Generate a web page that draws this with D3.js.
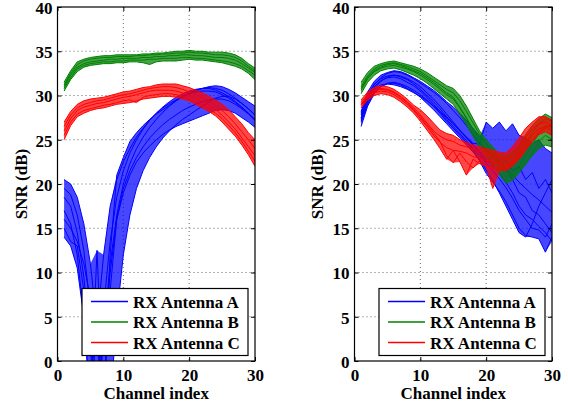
<!DOCTYPE html>
<html>
<head>
<meta charset="utf-8">
<script src="https://cdn.jsdelivr.net/npm/d3@7"></script>
<style>
body { margin: 0; background: #fff; }
text { font-family: "Liberation Serif", "Times New Roman", serif; font-weight: bold; }
</style>
</head>
<body>
<svg id="chart" width="568" height="408"></svg>
<script>
// channel index (x) for every trace
const channels = [1,2,3,4,5,6,7,8,9,10,11,12,13,14,15,16,17,18,19,20,21,22,23,24,25,26,27,28,29,30];
const xTicks = [0, 10, 20, 30];
const yTicks = [0, 5, 10, 15, 20, 25, 30, 35, 40];
const legendLabels = ['RX Antenna A', 'RX Antenna B', 'RX Antenna C'];

// left panel, antenna A (values below 0 drop off the axis)
const leftA = [
  [20.5,20.0,18.5,15.5,11.0,4.0,-5,12.0,21.0,23.0,24.8,25.8,26.6,27.3,27.9,28.4,28.9,29.4,29.8,30.2,30.5,30.8,31.0,31.1,31.0,30.7,30.3,29.8,29.3,28.8],
  [19.5,18.8,16.5,12.5,6.0,-5,3.0,11.0,16.5,20.0,22.3,24.0,25.3,26.4,27.3,28.1,28.8,29.4,29.9,30.3,30.6,30.8,30.9,30.8,30.6,30.2,29.7,29.1,28.5,27.8],
  [18.5,17.5,14.5,9.5,2.0,-5,6.0,13.5,18.5,21.5,23.5,25.0,26.2,27.2,28.0,28.7,29.3,29.8,30.2,30.5,30.7,30.8,30.8,30.6,30.3,29.9,29.3,28.7,28.0,27.3],
  [17.0,15.5,12.0,5.0,-5,4.0,12.0,17.5,20.5,22.5,24.0,25.3,26.3,27.2,28.0,28.6,29.1,29.5,29.9,30.2,30.4,30.5,30.5,30.4,30.1,29.7,29.2,28.6,28.0,27.2],
  [15.0,13.5,13.0,8.0,1.0,-5,2.0,10.0,16.0,19.5,21.5,23.0,24.2,25.2,26.0,26.7,27.3,27.8,28.3,28.7,29.0,29.3,29.5,29.6,29.6,29.4,29.0,28.5,27.9,27.2],
  [14.0,13.0,10.5,5.0,-5,12.5,-5,8.0,16.0,19.0,21.0,22.5,23.5,24.3,25.0,25.6,26.1,26.5,26.8,27.1,27.4,27.7,28.0,28.3,28.4,28.3,28.0,27.5,27.0,26.4],
  [16.0,15.0,13.5,11.0,7.0,2.0,-5,-5,5.0,12.0,16.5,19.5,21.5,23.0,24.2,25.2,26.0,26.7,27.3,27.8,28.3,28.8,29.3,29.7,29.9,29.9,29.6,29.1,28.5,27.8]
];
// left panel, antenna B
const leftB = [
  [31.5,32.8,33.8,34.1,34.3,34.4,34.5,34.5,34.6,34.6,34.6,34.6,34.7,34.7,34.8,34.8,34.9,35.0,35.0,35.1,35.0,35.0,34.9,34.9,34.9,34.8,34.6,34.2,33.6,33.1],
  [31.2,32.5,33.5,33.9,34.1,34.2,34.3,34.3,34.4,34.4,34.4,34.5,34.5,34.6,34.6,34.7,34.7,34.8,34.8,34.9,34.8,34.8,34.7,34.6,34.6,34.5,34.3,33.9,33.3,32.8],
  [31.0,32.3,33.2,33.6,33.8,33.9,34.0,34.1,34.1,34.2,34.2,34.2,34.3,34.3,34.4,34.4,34.5,34.5,34.6,34.6,34.5,34.5,34.4,34.3,34.3,34.2,34.0,33.6,33.1,32.6],
  [30.8,32.0,33.0,33.4,33.6,33.7,33.8,33.8,33.9,33.9,34.0,34.0,34.0,34.1,34.1,34.2,34.2,34.2,34.3,34.3,34.2,34.2,34.1,34.0,33.9,33.8,33.6,33.3,32.8,32.3],
  [30.5,31.8,32.7,33.2,33.4,33.5,33.6,33.6,33.7,33.7,33.8,33.8,33.7,33.5,33.8,33.9,33.9,33.9,34.0,34.1,34.0,34.0,33.9,33.8,33.7,33.5,33.3,33.0,32.5,31.8]
];
// left panel, antenna C
const leftC = [
  [27.0,28.2,29.0,29.4,29.6,29.7,29.8,30.0,30.2,30.4,30.5,30.7,30.9,31.0,31.2,31.3,31.3,31.3,31.1,30.9,30.6,30.3,29.9,29.5,29.0,28.4,27.6,26.8,25.8,25.0],
  [26.5,27.8,28.6,29.0,29.2,29.4,29.5,29.7,29.9,30.1,30.2,30.4,30.6,30.8,30.9,31.0,31.0,30.9,30.7,30.4,30.1,29.8,29.4,28.9,28.3,27.6,26.8,25.9,25.0,24.0],
  [26.0,27.4,28.3,28.7,28.9,29.1,29.2,29.4,29.6,29.8,29.9,30.1,30.3,30.5,30.6,30.6,30.6,30.5,30.3,30.0,29.7,29.3,28.9,28.4,27.8,27.0,26.2,25.2,24.2,23.2],
  [25.5,27.0,27.9,28.3,28.5,28.7,28.9,29.0,29.2,29.4,29.5,29.2,29.8,30.0,30.1,30.2,30.2,30.1,29.9,29.6,29.3,28.9,28.5,28.0,27.4,26.6,25.8,24.8,23.7,22.6],
  [25.0,26.6,27.6,28.0,28.3,28.5,28.6,28.8,29.0,29.1,29.2,29.4,29.6,29.7,29.8,29.9,29.9,29.8,29.6,29.4,29.0,28.6,28.2,27.7,27.0,26.2,25.4,24.4,23.3,22.0]
];

// right panel, antenna A
const rightA = [
  [27.8,29.8,31.2,32.0,32.5,32.7,32.6,32.3,31.9,31.4,30.9,30.4,29.8,29.1,28.3,27.5,26.6,25.6,24.6,23.8,23.0,22.5,21.8,21.0,20.2,19.5,18.8,18.2,17.5,16.8],
  [27.2,29.3,30.8,31.6,32.1,32.3,32.2,31.9,31.5,31.0,30.3,29.6,28.8,27.9,27.0,26.1,25.3,24.5,23.7,22.8,22.0,21.2,20.2,19.0,17.5,16.5,16.0,15.2,14.5,13.5],
  [26.5,28.8,30.2,31.0,31.4,31.5,31.3,31.0,30.6,30.1,29.5,28.8,28.0,27.1,26.3,25.5,24.7,23.9,22.6,21.2,20.2,19.2,18.0,16.5,15.0,14.2,14.0,13.8,12.3,14.0],
  [27.5,29.5,30.7,31.2,31.3,31.2,31.0,30.7,30.3,29.9,29.4,28.8,28.2,27.5,26.8,26.0,25.2,24.4,23.5,22.5,23.2,22.0,22.8,21.5,22.0,20.5,21.3,19.5,20.5,19.0],
  [28.0,30.0,31.3,31.9,32.2,32.3,32.1,31.8,31.3,30.7,30.0,29.3,28.5,27.6,26.8,26.0,25.3,24.6,24.5,27.0,26.3,27.0,26.0,26.8,25.5,25.2,24.6,25.0,24.0,23.5],
  [27.0,29.0,30.4,31.0,31.3,31.4,31.2,30.8,30.4,29.8,29.1,28.4,27.6,26.8,26.0,25.2,24.4,23.6,22.7,21.6,20.4,19.0,17.5,16.0,14.5,14.0,15.5,17.5,19.0,20.5],
  [28.2,30.4,31.6,32.3,32.6,32.8,32.7,32.4,32.0,31.6,31.1,30.6,30.0,29.3,28.7,28.0,27.2,26.3,25.4,24.6,23.6,22.6,21.6,20.5,19.0,18.5,17.0,16.5,15.5,14.5],
  [27.4,29.6,31.0,31.7,32.0,32.1,31.9,31.5,31.1,30.5,29.8,29.0,28.2,27.3,26.5,25.7,24.9,24.0,23.2,22.4,21.5,20.6,19.6,18.4,17.0,16.0,15.0,14.8,14.0,15.5]
];
// right panel, antenna B
const rightB = [
  [31.5,32.6,33.3,33.6,33.8,33.9,33.7,33.5,33.3,33.0,32.6,32.1,31.6,31.1,30.8,30.0,28.8,27.4,26.0,25.0,24.2,23.3,23.2,23.6,24.4,25.6,26.6,27.4,27.9,27.5],
  [31.0,32.2,33.0,33.4,33.6,33.7,33.5,33.3,33.0,32.7,32.2,31.7,31.2,30.7,30.3,29.4,28.2,26.9,25.6,24.6,23.7,22.6,21.6,22.0,23.2,24.6,25.8,26.8,27.4,27.1],
  [30.6,31.9,32.7,33.1,33.3,33.4,33.2,33.0,32.7,32.3,31.8,31.3,30.7,30.1,29.6,28.6,27.4,26.2,25.0,24.0,23.0,21.9,20.8,21.0,22.0,23.2,24.5,25.7,26.6,26.4],
  [30.2,31.5,32.3,32.8,33.0,33.1,32.9,32.6,32.3,31.9,31.4,30.8,30.2,29.6,29.0,27.9,26.7,25.4,24.2,23.1,22.2,21.1,20.1,20.4,21.3,22.2,23.4,24.8,25.5,25.0],
  [30.8,32.0,32.8,33.2,33.5,33.6,33.4,33.1,32.8,32.5,32.0,31.5,30.9,30.3,29.8,28.7,27.5,26.2,25.0,24.0,23.2,22.2,21.3,21.0,21.6,22.4,23.2,24.0,24.4,24.2]
];
// right panel, antenna C
const rightC = [
  [29.5,30.4,30.9,31.1,31.0,30.7,30.2,29.6,28.9,28.4,27.7,26.9,26.1,25.7,25.5,25.0,24.7,24.4,24.2,24.0,23.8,23.6,23.5,24.2,25.2,26.3,27.0,27.6,27.6,27.2],
  [29.2,30.1,30.6,30.8,30.7,30.4,29.9,29.3,28.6,27.8,26.9,26.0,25.4,25.0,24.8,24.4,24.2,23.9,23.7,23.4,23.2,23.0,22.7,23.2,24.2,25.3,26.2,26.8,27.0,26.5],
  [28.9,29.8,30.3,30.5,30.4,30.1,29.6,29.0,28.3,27.4,26.5,25.5,24.7,24.1,23.8,23.7,23.5,23.1,22.9,22.7,22.5,22.3,22.0,22.5,23.5,24.6,25.5,26.2,26.5,26.0],
  [28.6,29.5,30.0,30.2,30.1,29.8,29.3,28.7,28.0,27.1,26.1,25.1,24.0,22.8,23.8,22.5,21.0,22.8,22.3,22.0,21.8,21.6,21.5,22.0,22.8,23.8,24.8,25.6,25.9,25.5],
  [29.0,29.9,30.5,30.7,30.6,30.3,29.8,29.2,28.4,27.6,26.7,25.8,24.8,23.2,22.4,23.5,22.5,21.8,22.6,22.0,19.5,21.5,22.0,22.4,23.0,24.0,25.0,25.8,26.3,26.8]
];

const colors = ['#0000ff', '#008000', '#ff0000'];

const svg = d3.select('#chart');
const plotTop = 7, plotBottom = 361;

function drawPanel(id, left, right, series, yLabelX) {
  const x = d3.scaleLinear().domain([0, 30]).range([left, right]);
  const y = d3.scaleLinear().domain([0, 40]).range([plotBottom, plotTop]);
  const g = svg.append('g').attr('class', id);

  g.append('rect')
    .attr('x', left).attr('y', plotTop)
    .attr('width', right - left).attr('height', plotBottom - plotTop)
    .style('fill', '#fff');

  // dotted grid
  g.append('g').selectAll('line')
    .data(xTicks.slice(1, -1))
    .enter().append('line')
    .attr('x1', d => x(d)).attr('x2', d => x(d))
    .attr('y1', plotTop).attr('y2', plotBottom)
    .style('stroke', '#444').style('stroke-width', 0.8).style('stroke-dasharray', '1,3');
  g.append('g').selectAll('line')
    .data(yTicks.slice(1, -1))
    .enter().append('line')
    .attr('y1', d => y(d)).attr('y2', d => y(d))
    .attr('x1', left).attr('x2', right)
    .style('stroke', '#444').style('stroke-width', 0.8).style('stroke-dasharray', '1,3');

  svg.append('clipPath').attr('id', 'clip-' + id)
    .append('rect')
    .attr('x', left).attr('y', plotTop)
    .attr('width', right - left).attr('height', plotBottom - plotTop);

  const plot = g.append('g').attr('clip-path', `url(#clip-${id})`);
  const line = d3.line().x((d, i) => x(channels[i])).y(d => y(d));
  const area = d3.area()
    .x((d, i) => x(channels[i]))
    .y0(d => y(d[0])).y1(d => y(d[1]));

  series.forEach((traces, k) => {
    // the bundle of traces is dense, so shade its envelope
    const band = channels.map((c, i) => [d3.min(traces, t => t[i]), d3.max(traces, t => t[i])]);
    plot.append('path')
      .datum(band)
      .attr('d', area)
      .style('fill', colors[k]).style('opacity', 0.72);
    plot.selectAll('.trace' + k)
      .data(traces)
      .enter().append('path')
      .attr('class', 'trace' + k)
      .attr('d', line)
      .style('fill', 'none')
      .style('stroke', colors[k])
      .style('stroke-width', 1);
  });

  // axes with inward ticks
  g.append('g')
    .attr('transform', `translate(0,${plotBottom})`)
    .call(d3.axisBottom(x).tickValues(xTicks).tickSizeInner(-4).tickSizeOuter(0).tickPadding(8))
    .call(a => a.select('.domain').remove())
    .selectAll('text').style('font-size', '17px').style('fill', '#000');
  g.append('g')
    .attr('transform', `translate(0,${plotTop})`)
    .call(d3.axisTop(x).tickValues(xTicks).tickSizeInner(-4).tickSizeOuter(0).tickFormat(''))
    .call(a => a.select('.domain').remove());
  g.append('g')
    .attr('transform', `translate(${left},0)`)
    .call(d3.axisLeft(y).tickValues(yTicks).tickSizeInner(-4).tickSizeOuter(0).tickPadding(5))
    .call(a => a.select('.domain').remove())
    .selectAll('text').attr('dy', '0.38em').style('font-size', '17px').style('fill', '#000');
  g.append('g')
    .attr('transform', `translate(${right},0)`)
    .call(d3.axisRight(y).tickValues(yTicks).tickSizeInner(-4).tickSizeOuter(0).tickFormat(''))
    .call(a => a.select('.domain').remove());
  g.selectAll('.tick line').style('stroke', '#000');

  g.append('rect')
    .attr('x', left).attr('y', plotTop)
    .attr('width', right - left).attr('height', plotBottom - plotTop)
    .style('fill', 'none').style('stroke', '#000').style('stroke-width', 1.2);

  g.append('text')
    .attr('x', (left + right) / 2).attr('y', 399)
    .attr('text-anchor', 'middle')
    .style('font-size', '17px')
    .text('Channel index');
  g.append('text')
    .attr('transform', `translate(${yLabelX},${(plotTop + plotBottom) / 2}) rotate(-90)`)
    .attr('text-anchor', 'middle')
    .style('font-size', '17px')
    .text('SNR (dB)');

  // legend
  const lx = left + 24.5, ly = 288.5;
  const legend = g.append('g');
  legend.append('rect')
    .attr('x', lx).attr('y', ly)
    .attr('width', 166).attr('height', 67)
    .style('fill', '#fff').style('stroke', '#000').style('stroke-width', 1.2);
  legendLabels.forEach((lab, k) => {
    const cy = ly + 13 + k * 20.5;
    legend.append('line')
      .attr('x1', lx + 9).attr('x2', lx + 46)
      .attr('y1', cy).attr('y2', cy)
      .style('stroke', colors[k]).style('stroke-width', 1.4);
    legend.append('text')
      .attr('x', lx + 51).attr('y', cy + 6)
      .style('font-size', '17px')
      .text(lab);
  });
}

drawPanel('left', 57.5, 255, [leftA, leftB, leftC], 27);
drawPanel('right', 354.5, 552, [rightA, rightB, rightC], 323);
</script>
</body>
</html>
